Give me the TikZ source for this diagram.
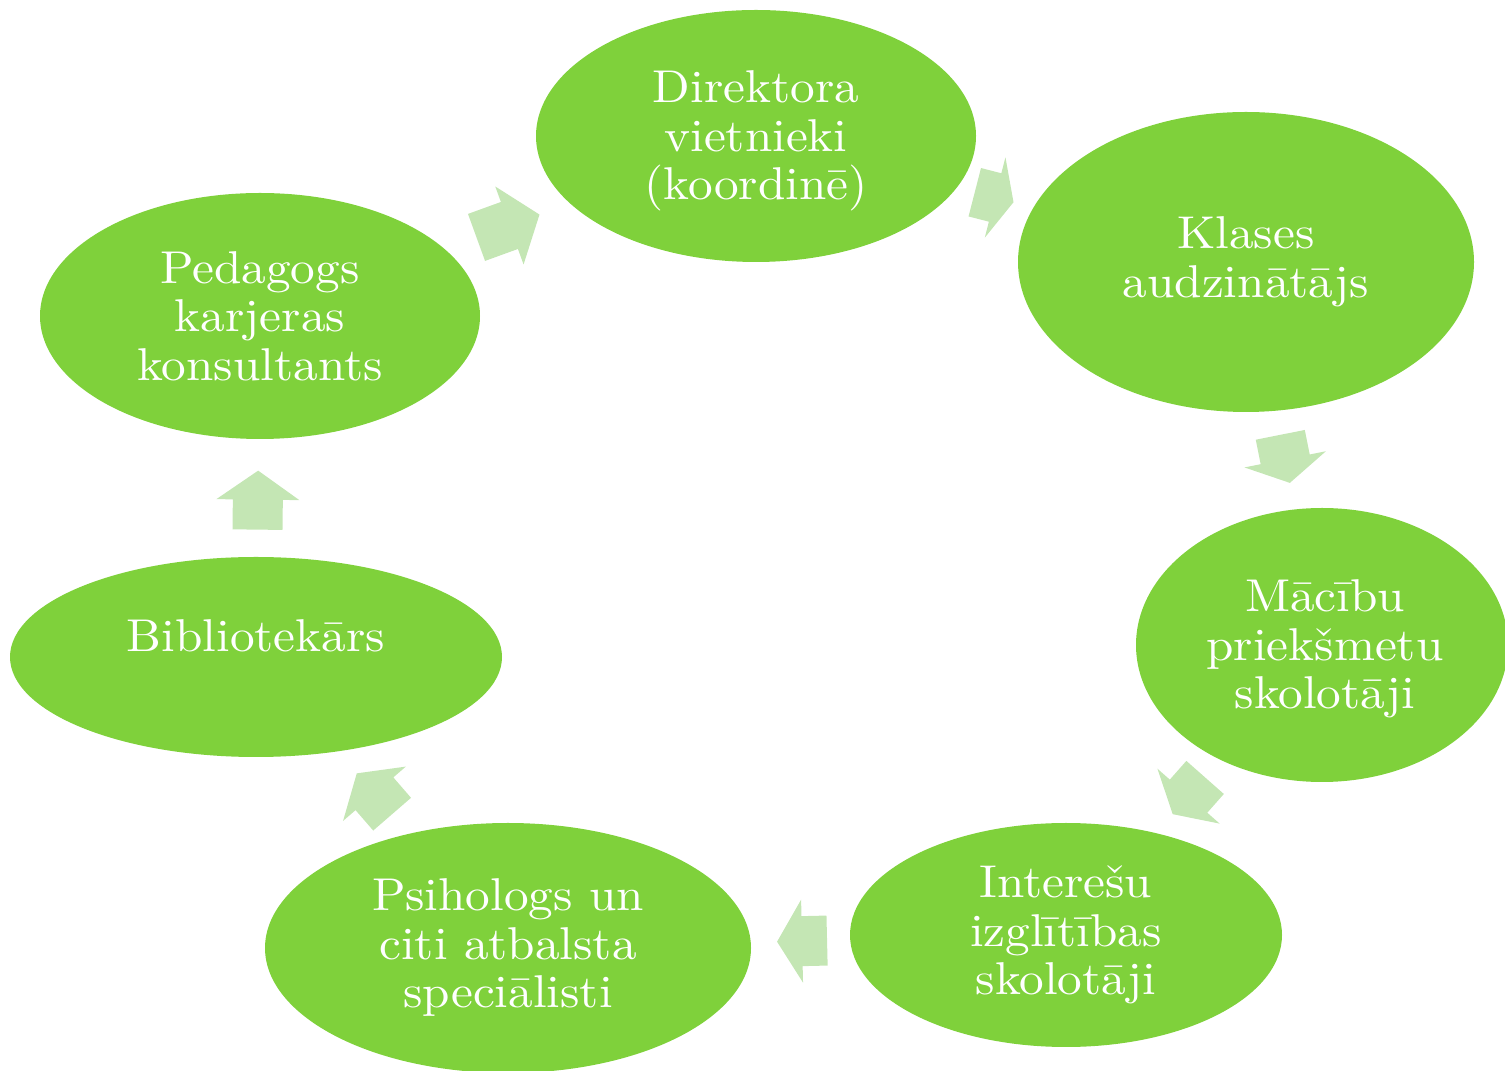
\documentclass[tikz,border=0pt]{standalone}
\usepackage{fontspec}
\setmainfont{lmroman10-regular.otf}[FakeStretch=1.07]
\usetikzlibrary{shapes.geometric}
\definecolor{cyclegreen}{RGB}{127,209,59}
\definecolor{arrowgreen}{RGB}{196,230,180}
\tikzset{
  stage/.style={ellipse, fill=cyclegreen, draw=none, inner sep=0pt, text=white, align=center,
    font=\fontsize{46}{48.5}\selectfont},
  lbl/.style={text=white, align=center, inner sep=0pt, font=\fontsize{46}{48.5}\selectfont},
  pics/cyclearrow/.style 2 args={code={
    \fill[arrowgreen] ({-#1/2},-25) -- ({#1/2-#2},-25) -- ({#1/2-#2},-41.5) -- ({#1/2},0)
      -- ({#1/2-#2},41.5) -- ({#1/2-#2},25) -- ({-#1/2},25) -- cycle;}},
  onpath/.style={pos=#1, sloped, allow upside down}
}
\begin{document}
\begin{tikzpicture}[x=1pt,y=1pt]
\useasboundingbox (0,0) rectangle (1505,1071);
\node[stage, minimum width=440, minimum height=252] (dir) at (756,935) {};
\node[lbl] (dirt) at ([yshift=-5]dir.center) {Direktora\\vietnieki\\(koordinē)};
\node[stage, minimum width=456, minimum height=300] (kla) at (1246,809) {Klases\\audzinātājs};
\node[stage, minimum width=372, minimum height=274] (mac) at (1322,426) {};
\node[lbl] (mact) at ([xshift=3,yshift=-4]mac.center) {Mācību\\priekšmetu\\skolotāji};
\node[stage, minimum width=432, minimum height=224] (int) at (1066,136) {Interešu\\izglītības\\skolotāji};
\node[stage, minimum width=486, minimum height=250] (psi) at (508,123) {Psihologs un\\citi atbalsta\\speciālisti};
\node[stage, minimum width=492, minimum height=200] (bib) at (256,414) {};
\node[lbl] (bibt) at ([yshift=21]bib.center) {Bibliotekārs};
\node[stage, minimum width=440, minimum height=246] (ped) at (260,755) {Pedagogs\\karjeras\\konsultants};

\path (ped.center) -- (dir.center) pic[onpath=0.5] {cyclearrow={67}{32}};
\path (dir.center) -- (kla.center) pic[onpath=0.486] {cyclearrow={40}{19}};
\path (kla.center) -- (mac.center) pic[onpath=0.514] {cyclearrow={49}{24}};
\path (mac.center) -- (int.center) pic[onpath=0.52] {cyclearrow={49}{24}};
\path (int.center) -- (psi.center) pic[onpath=0.473] {cyclearrow={50}{25}};
\path (psi.center) -- (bib.center) pic[onpath=0.53] {cyclearrow={54}{27}};
\path (bib.center) -- (ped.center) pic[onpath=0.46] {cyclearrow={59}{29}};
\end{tikzpicture}
\end{document}
